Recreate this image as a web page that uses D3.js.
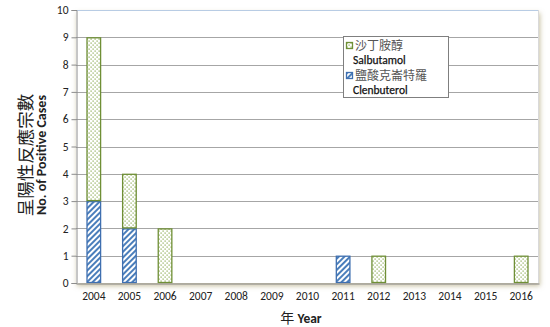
<!DOCTYPE html>
<html>
<head>
<meta charset="utf-8">
<script src="https://cdn.jsdelivr.net/npm/d3@7"></script>
<style>
  html, body { margin: 0; padding: 0; background: #fff; }
  svg { display: block; }
</style>
</head>
<body>
<svg id="chart" width="550" height="327"></svg>
<script>
// Positive cases by year, stacked: clenbuterol at the bottom, salbutamol on top
const years = ["2004","2005","2006","2007","2008","2009","2010","2011","2012","2013","2014","2015","2016"];
const clenbuterol = [3, 2, 0, 0, 0, 0, 0, 1, 0, 0, 0, 0, 0];
const salbutamol  = [6, 2, 2, 0, 0, 0, 0, 0, 1, 0, 0, 0, 1];
const yTicks = [0, 1, 2, 3, 4, 5, 6, 7, 8, 9, 10];
const seriesNames = [
  { key: "salbutamol", zh: "沙丁胺醇", en: "Salbutamol" },
  { key: "clenbuterol", zh: "鹽酸克崙特羅", en: "Clenbuterol" }
];

const svg = d3.select("#chart");
const m = { left: 76, right: 539, top: 10, bottom: 283 };
const latin = "Calibri, Carlito, 'Open Sans', Lato, sans-serif";
const cjk = "'Noto Sans CJK TC', 'Noto Sans CJK SC', sans-serif";

const defs = svg.append("defs");

// soft shadow around the plot area
const f = defs.append("filter").attr("id", "shadow")
  .attr("x", "-5%").attr("y", "-5%").attr("width", "110%").attr("height", "115%");
f.append("feGaussianBlur").attr("in", "SourceAlpha").attr("stdDeviation", 2.5).attr("result", "b");
f.append("feOffset").attr("in", "b").attr("dx", 1).attr("dy", 3).attr("result", "o");
f.append("feFlood").attr("flood-color", "#b5ab82").attr("flood-opacity", 0.75);
f.append("feComposite").attr("in2", "o").attr("operator", "in").attr("result", "s");
const fm = f.append("feMerge");
fm.append("feMergeNode").attr("in", "s");
fm.append("feMergeNode").attr("in", "SourceGraphic");

// diagonal hatching for clenbuterol
const hatch = defs.append("pattern").attr("id", "hatch")
  .attr("patternUnits", "userSpaceOnUse").attr("width", 4).attr("height", 4)
  .attr("patternTransform", "rotate(45)");
hatch.append("rect").attr("width", 4).attr("height", 4).attr("fill", "#ffffff");
hatch.append("rect").attr("x", 0).attr("width", 2).attr("height", 4).attr("fill", "#4a7ebb");

// dotted fill for salbutamol
const dots = defs.append("pattern").attr("id", "dots")
  .attr("patternUnits", "userSpaceOnUse").attr("width", 4).attr("height", 4);
dots.append("rect").attr("width", 4).attr("height", 4).attr("fill", "#ffffff");
dots.append("rect").attr("x", 0.5).attr("y", 0.5).attr("width", 1.2).attr("height", 1.2).attr("fill", "#86a64a");
dots.append("rect").attr("x", 2.5).attr("y", 2.5).attr("width", 1.2).attr("height", 1.2).attr("fill", "#86a64a");

const fills = {
  salbutamol: { fill: "url(#dots)", stroke: "#6f8f36" },
  clenbuterol: { fill: "url(#hatch)", stroke: "#3f6fb0" }
};

const x = d3.scaleBand().domain(years).range([m.left, m.right]).paddingInner(0.59).paddingOuter(0.295);
const y = d3.scaleLinear().domain([0, 10]).range([m.bottom, m.top]);

// plot area
svg.append("rect")
  .attr("x", m.left).attr("y", m.top)
  .attr("width", m.right - m.left).attr("height", m.bottom - m.top)
  .attr("fill", "#ffffff").attr("filter", "url(#shadow)");

// gridlines
svg.append("g").selectAll("line").data(yTicks.filter(t => t > 0 && t < 10)).join("line")
  .attr("x1", m.left).attr("x2", m.right)
  .attr("y1", d => Math.round(y(d)) + 0.5).attr("y2", d => Math.round(y(d)) + 0.5)
  .attr("stroke", "#a6a6a6").attr("stroke-width", 1);

// top and right edges of the plot area
svg.append("line").attr("x1", m.left).attr("x2", m.right)
  .attr("y1", y(10) + 0.5).attr("y2", y(10) + 0.5)
  .attr("stroke", "#b8cce4").attr("stroke-width", 1);
svg.append("line").attr("x1", m.right - 0.5).attr("x2", m.right - 0.5)
  .attr("y1", m.top).attr("y2", m.bottom)
  .attr("stroke", "#d9d9d9").attr("stroke-width", 1);

// stacked bars
const stack = d3.stack().keys(["clenbuterol", "salbutamol"]);
const rows = years.map((yr, i) => ({ year: yr, clenbuterol: clenbuterol[i], salbutamol: salbutamol[i] }));
const layers = stack(rows);
layers.forEach(layer => {
  svg.append("g").selectAll("rect")
    .data(layer.filter(d => d[1] - d[0] > 0)).join("rect")
    .attr("x", d => x(d.data.year) + 0.5)
    .attr("y", d => y(d[1]) + 0.5)
    .attr("width", x.bandwidth() - 1)
    .attr("height", d => y(d[0]) - y(d[1]) - 1)
    .attr("fill", fills[layer.key].fill)
    .attr("stroke", fills[layer.key].stroke)
    .attr("stroke-width", 1.3);
});

// y axis
const yAxis = svg.append("g").attr("transform", `translate(${m.left + 0.5},0)`)
  .call(d3.axisLeft(y).tickValues(yTicks).tickSize(5).tickPadding(3).tickFormat(d3.format("d")));
yAxis.select(".domain").attr("stroke", "#8c8c8c");
yAxis.selectAll(".tick line").attr("stroke", "#8c8c8c");
yAxis.selectAll("text").attr("font-family", latin).attr("font-size", 11.5).attr("fill", "#222");

// x axis
const xAxis = svg.append("g").attr("transform", `translate(0,${m.bottom + 0.5})`)
  .call(d3.axisBottom(x).tickSize(0).tickPadding(8));
xAxis.select(".domain").attr("stroke", "#8c8c8c");
xAxis.selectAll("text").attr("font-family", latin).attr("font-size", 11.5).attr("fill", "#222");

// axis titles
const yt = svg.append("g").attr("transform", "translate(0,155) rotate(-90)");
yt.append("text").attr("x", 0).attr("y", 32).attr("text-anchor", "middle")
  .attr("font-family", cjk).attr("font-size", 17.5).attr("fill", "#222").text("呈陽性反應宗數");
yt.append("text").attr("x", 0).attr("y", 46).attr("text-anchor", "middle")
  .attr("font-family", latin).attr("font-weight", "bold").attr("font-size", 14).attr("fill", "#222")
  .text("No. of Positive Cases");

const xt = svg.append("text").attr("x", 301).attr("y", 323).attr("text-anchor", "middle").attr("fill", "#222");
xt.append("tspan").attr("font-family", cjk).attr("font-size", 14).text("年 ");
xt.append("tspan").attr("font-family", latin).attr("font-weight", "bold").attr("font-size", 13.5).text("Year");

// legend
const lg = svg.append("g");
lg.append("rect").attr("x", 343.5).attr("y", 36.5).attr("width", 105).attr("height", 61)
  .attr("fill", "#ffffff").attr("stroke", "#7f7f7f").attr("stroke-width", 1);
seriesNames.forEach((s, i) => {
  const top = 39 + i * 30;
  lg.append("rect").attr("x", 346.5).attr("y", top + 3.5).attr("width", 6).attr("height", 6)
    .attr("fill", fills[s.key].fill).attr("stroke", fills[s.key].stroke).attr("stroke-width", 1.3);
  lg.append("text").attr("x", 355).attr("y", top + 11)
    .attr("font-family", cjk).attr("font-size", 12).attr("fill", "#555").text(s.zh);
  lg.append("text").attr("x", 353).attr("y", top + 24.5)
    .attr("font-family", latin).attr("font-size", 11.5).attr("fill", "#111")
    .attr("stroke", "#111").attr("stroke-width", 0.25).text(s.en);
});
</script>
</body>
</html>
